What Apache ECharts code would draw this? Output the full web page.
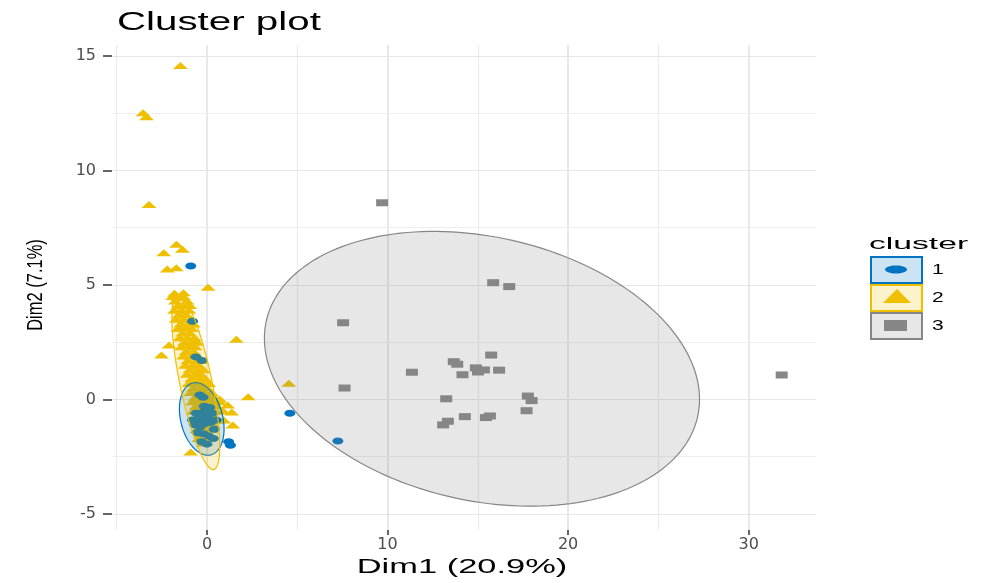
<!DOCTYPE html>
<html><head><meta charset="utf-8">
<script src="https://cdn.jsdelivr.net/npm/echarts@6/dist/echarts.min.js"></script>
<style>html,body{margin:0;padding:0;background:#fff}#c{width:981px;height:583px}</style>
</head><body><div id="c"></div>
<script>
const titleText = "Cluster plot";
const xTitle = "Dim1 (20.9%)";
const yTitle = "Dim2 (7.1%)";
const legendTitle = "cluster";
const clusterNames = ["1", "2", "3"];
const clusterColors = ["#0073C2", "#EFC000", "#868686"];
const clusterFills = ["#cce3f3", "#fcf2cc", "#e7e7e7"];
const xTicks = [0, 10, 20, 30];
const yTicks = [-5, 0, 5, 10, 15];
const xMinorTicks = [-5, 5, 15, 25];
const yMinorTicks = [-2.5, 2.5, 7.5, 12.5];

// cluster 1 (blue circles)
const cluster1 = [
  [-0.90,5.83],[4.59,-0.60],[7.25,-1.81],[1.20,-1.85],[1.30,-2.00],
  [-0.80,3.42],[-0.62,1.86],[-0.28,1.70],[-0.40,0.20],[-0.22,0.10],
  [-0.60,-0.60],[-0.40,-0.70],[-0.20,-0.55],[0.00,-0.75],[-0.50,-0.85],[-0.30,-0.90],[-0.10,-0.80],
  [-0.70,-1.10],[-0.40,-1.20],[-0.10,-1.05],[0.20,-1.00],[0.40,-1.30],[-0.55,-1.45],[-0.20,-1.50],
  [0.10,-1.60],[0.35,-1.70],[-0.30,-1.85],[0.00,-1.95],[-0.80,-0.90],[0.30,-0.60],[0.50,-0.90],
  [-0.15,-0.30],[0.15,-0.35]
];
// cluster 2 (yellow triangles)
const cluster2 = [
  [-1.47,14.58],[-3.54,12.52],[-3.35,12.35],[-3.21,8.52],[-1.69,6.78],[-1.36,6.56],[-2.39,6.41],
  [-2.20,5.70],[-1.70,5.75],[0.06,4.90],[-1.80,4.64],[-1.30,4.66],[1.63,2.63],[-2.52,1.94],[-2.10,2.38],
  [2.28,0.12],[4.53,0.71],[-0.90,-2.29],
  [1.15,-0.24],[1.37,-0.55],[0.93,-0.90],[0.71,0.02],[1.43,-1.11],
  [-1.90,4.50],[-1.30,4.50],[-1.60,4.45],[-1.75,4.30],[-1.10,4.30],[-1.60,4.10],[-1.25,4.10],[-0.95,4.10],
  [-1.80,3.90],[-1.40,3.90],[-1.00,3.90],[-1.55,3.70],[-1.15,3.70],[-1.70,3.50],[-1.30,3.50],[-0.90,3.50],
  [-1.45,3.30],[-1.05,3.30],[-0.75,3.30],[-1.60,3.10],[-1.20,3.10],[-0.85,3.10],[-1.35,2.90],[-0.95,2.90],
  [-1.50,2.70],[-1.10,2.70],[-0.70,2.70],[-1.25,2.50],[-0.85,2.50],[-0.55,2.50],[-1.40,2.30],[-1.00,2.30],
  [-0.65,2.30],[-1.15,2.10],[-0.75,2.10],[-1.30,1.90],[-0.90,1.90],[-0.50,1.90],[-1.05,1.70],[-0.60,1.70],
  [-0.35,1.70],[-1.20,1.50],[-0.80,1.50],[-0.45,1.50],[-0.95,1.30],[-0.55,1.30],[-0.20,1.30],[-1.10,1.10],
  [-0.70,1.10],[-0.35,1.10],[-0.85,0.90],[-0.45,0.90],[-0.10,0.90],[-1.00,0.70],[-0.60,0.70],[-0.25,0.70],
  [0.10,0.70],[-0.75,0.50],[-0.35,0.50],[0.00,0.50],[-0.90,0.30],[-0.50,0.30],[-0.15,0.30],[0.25,0.30],
  [-0.65,0.10],[-0.30,0.10],[0.05,0.10],[0.40,0.10],[-0.80,-0.10],[-0.45,-0.10],[-0.05,-0.10],[0.35,-0.10],
  [0.70,-0.10],[-0.60,-0.30],[-0.20,-0.30],[0.20,-0.30],[0.55,-0.30],[-0.75,-0.50],[-0.35,-0.50],[0.05,-0.50],
  [0.45,-0.50],[0.90,-0.50],[-0.50,-0.70],[-0.10,-0.70],[0.30,-0.70],[-0.65,-0.90],[-0.25,-0.90],[0.15,-0.90],
  [0.50,-0.90],[-0.40,-1.10],[0.00,-1.10],[0.35,-1.10],[-0.55,-1.30],[-0.15,-1.30],[0.25,-1.30],[-0.30,-1.50],
  [0.10,-1.50],[-0.45,-1.70],[-0.05,-1.70],[-0.20,-1.90]
];
// cluster 3 (grey squares)
const cluster3 = [
  [9.70,8.59],[15.85,5.10],[16.74,4.93],[7.54,3.35],[7.62,0.50],[11.35,1.19],[13.67,1.65],[13.86,1.54],
  [14.15,1.08],[14.89,1.38],[15.34,1.29],[15.01,1.20],[15.74,1.94],[16.18,1.28],[13.25,0.03],[17.77,0.15],
  [17.98,-0.05],[17.70,-0.49],[14.28,-0.75],[15.67,-0.72],[15.45,-0.79],[13.34,-0.95],[13.08,-1.11],[31.83,1.07]
];
// ellipses: [centerX, centerY, axisA_x, axisA_y, axisB_x, axisB_y]
const ellipse1 = [-0.29, -0.85, 0.50, -1.57, 1.13, 0.22];
const ellipse2 = [-0.62, 0.76, 1.00, -3.82, 0.87, 0.14];
const ellipse3 = [15.23, 1.34, 12.05, -1.33, 0.00, 5.85];

const clusters = [cluster1, cluster2, cluster3];
const ellipses = [ellipse1, ellipse2, ellipse3];
const symbols = ['circle', 'triangle', 'rect'];
const symbolSizes = [[11, 7], [15, 7], [12, 7]];

function rgba(hex, a) {
  const n = parseInt(hex.slice(1), 16);
  return 'rgba(' + ((n >> 16) & 255) + ',' + ((n >> 8) & 255) + ',' + (n & 255) + ',' + a + ')';
}

const gridLines = [];
xTicks.forEach(v => gridLines.push({xAxis: v, lineStyle: {color: '#e6e6e6', width: 1.8, type: 'solid'}}));
xMinorTicks.forEach(v => gridLines.push({xAxis: v, lineStyle: {color: '#ececec', width: 1.2, type: 'solid'}}));
yTicks.forEach(v => gridLines.push({yAxis: v, lineStyle: {color: '#e6e6e6', width: 1.2, type: 'solid'}}));
yMinorTicks.forEach(v => gridLines.push({yAxis: v, lineStyle: {color: '#eeeeee', width: 1, type: 'solid'}}));

const series = [{
  type: 'scatter', data: [], z: 0, silent: true,
  markLine: {z: 0, silent: true, symbol: 'none', label: {show: false}, animation: false, data: gridLines}
}];
const drawOrder = [1, 0, 2];
drawOrder.forEach(i => {
  series.push({
    type: 'scatter', name: clusterNames[i], data: clusters[i], z: 3,
    symbol: symbols[i], symbolSize: symbolSizes[i],
    itemStyle: {color: clusterColors[i], opacity: 1}, silent: true
  });
});
ellipses.forEach((e, i) => {
  series.push({
    type: 'custom', data: [e], z: 4, silent: true,
    renderItem: function (p, api) {
      const cx = api.value(0), cy = api.value(1), ax = api.value(2), ay = api.value(3), bx = api.value(4), by = api.value(5);
      const pts = [];
      for (let k = 0; k < 180; k++) {
        const t = k / 180 * 2 * Math.PI;
        pts.push(api.coord([cx + ax * Math.cos(t) + bx * Math.sin(t), cy + ay * Math.cos(t) + by * Math.sin(t)]));
      }
      return {type: 'polygon', shape: {points: pts},
        style: {fill: rgba(clusterColors[i], 0.2), stroke: clusterColors[i], lineWidth: 1.2}};
    }
  });
});

const graphic = [
  {type: 'text', x: 117, y: 22.5, scaleX: 1.55, style: {text: titleText, fontSize: 26, fontFamily: 'Liberation Sans', fill: '#000', align: 'left', verticalAlign: 'middle'}},
  {type: 'text', x: 462, y: 567, scaleX: 1.68, style: {text: xTitle, fontSize: 20.5, fontFamily: 'Liberation Sans', fill: '#000', align: 'center', verticalAlign: 'middle'}},
  {type: 'text', x: 36, y: 285, rotation: Math.PI / 2, scaleY: 1.3, style: {text: yTitle, fontSize: 16.5, fontFamily: 'Liberation Sans', fill: '#000', align: 'center', verticalAlign: 'middle'}},
  {type: 'text', x: 869, y: 244.5, scaleX: 1.98, style: {text: legendTitle, fontSize: 17, fontFamily: 'Liberation Sans', fill: '#000', align: 'left', verticalAlign: 'middle'}}
];
const keyY = [257, 285, 313];
clusterNames.forEach((name, i) => {
  graphic.push({type: 'rect', shape: {x: 871, y: keyY[i], width: 51, height: 26},
    style: {fill: clusterFills[i], stroke: clusterColors[i], lineWidth: 2}});
  graphic.push({type: 'text', x: 932, y: keyY[i] + 13, scaleX: 1.5,
    style: {text: name, fontSize: 14, fontFamily: 'Liberation Sans', fill: '#000', align: 'left', verticalAlign: 'middle'}});
});
graphic.push({type: 'ellipse', shape: {cx: 896, cy: 269.5, rx: 11, ry: 4}, style: {fill: clusterColors[0]}});
graphic.push({type: 'polygon', shape: {points: [[883, 303], [911, 303], [897, 289]]}, style: {fill: clusterColors[1]}});
graphic.push({type: 'rect', shape: {x: 884, y: 320, width: 23, height: 11}, style: {fill: clusterColors[2]}});

const chart = echarts.init(document.getElementById('c'), null, {renderer: 'canvas'});
chart.setOption({
  backgroundColor: '#fff',
  animation: false,
  grid: {left: 112, right: 165, top: 45, bottom: 53, containLabel: false},
  xAxis: {
    type: 'value', min: -5.26, max: 33.73,
    splitLine: {show: false}, axisLine: {show: false, onZero: false},
    axisTick: {show: true, customValues: xTicks, length: 5, lineStyle: {color: '#333', width: 1.5}},
    axisLabel: {customValues: xTicks, margin: 7, color: '#4d4d4d', fontSize: 16, fontFamily: 'DejaVu Sans'}
  },
  yAxis: {
    type: 'value', min: -5.70, max: 15.48,
    splitLine: {show: false}, axisLine: {show: false, onZero: false},
    axisTick: {show: true, customValues: yTicks, length: 9, lineStyle: {color: '#333', width: 1.5}},
    axisLabel: {customValues: yTicks, margin: 16, color: '#4d4d4d', fontSize: 16, fontFamily: 'DejaVu Sans'}
  },
  series: series,
  graphic: graphic
});
</script></body></html>
